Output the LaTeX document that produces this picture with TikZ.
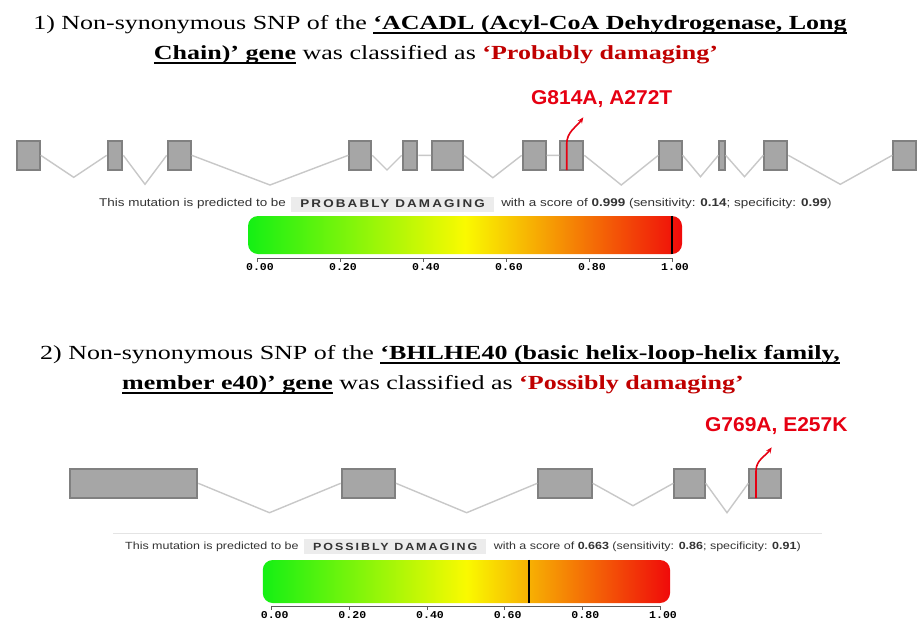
\documentclass[tikz,border=0pt]{standalone}
\usepackage{fontspec}
\setmainfont{Liberation Serif}
\newfontfamily\headfont[FakeStretch=1.3]{Liberation Serif}
\newfontfamily\polyfont[FakeStretch=1.2]{Liberation Sans}
\newfontfamily\verdictfont[FakeStretch=1.2,LetterSpace=19]{Liberation Sans}
\newfontfamily\tickfont[FakeStretch=1.1]{Liberation Mono}
\newfontfamily\snpfont[FakeStretch=1.05]{Liberation Sans}
\newcommand\headul[1]{\leavevmode\setbox0\hbox{#1}\rlap{\vrule height -3.2pt depth 4.6pt width \wd0}\box0\relax}
\usetikzlibrary{positioning, arrows.meta, calc}

\definecolor{exonfill}{RGB}{166,166,166}
\definecolor{exonline}{RGB}{128,128,128}
\definecolor{intronline}{RGB}{200,200,200}
\definecolor{snpred}{RGB}{230,0,18}
\definecolor{headred}{RGB}{192,0,0}
\definecolor{polytext}{RGB}{51,51,51}
\definecolor{verdictbg}{RGB}{236,236,236}
\definecolor{barGreen}{RGB}{20,240,20}
\definecolor{barYellow}{RGB}{250,250,0}
\definecolor{barRed}{RGB}{240,10,10}
\definecolor{axisgray}{RGB}{90,90,90}
\definecolor{sepgray}{RGB}{228,228,228}

\begin{document}
\begin{tikzpicture}[
  x=1pt, y=-1pt,
  >={Stealth[length=6pt,width=5pt]},
  node distance=5pt,
  head/.style={anchor=base, font=\headfont\fontsize{20}{24}\selectfont, inner sep=0pt},
  exon/.style={draw=exonline, line width=2pt, fill=exonfill, inner sep=0pt},
  intron/.style={draw=intronline, line width=1.4pt},
  snp/.style={->, draw=snpred, line width=1.6pt},
  snplab/.style={font=\snpfont\bfseries\fontsize{20}{24}\selectfont, text=snpred, inner sep=0pt},
  polyline/.style={font=\polyfont\fontsize{11.2}{13}\selectfont, text=polytext, inner sep=0pt, text height=8.2pt, text depth=2.3pt},
  verdict/.style={font=\verdictfont\bfseries\fontsize{11.2}{13}\selectfont, text=polytext, fill=verdictbg, inner xsep=9pt, inner ysep=0pt, minimum height=15pt},
  small/.style={font=\polyfont\fontsize{10.4}{13}\selectfont},
  smallv/.style={font=\verdictfont\bfseries\fontsize{10.4}{13}\selectfont},
  scorebar/.style={rounded corners=10pt, left color=barGreen, right color=barRed, middle color=barYellow, inner sep=0pt},
  marker/.style={draw=black, line width=2pt},
  axis/.style={draw=axisgray, line width=1pt},
  ticklab/.style={font=\tickfont\bfseries\fontsize{10.5}{12}\selectfont, inner sep=0pt}
]
  \path[use as bounding box, fill=white] (0,0) rectangle (919,630);

  % ---- ACADL ----
  \node[head] (head1a) at (440,29) {1) Non-synonymous SNP of the \headul{\textbf{‘ACADL (Acyl-CoA Dehydrogenase, Long}}};
  \node[head] (head1b) at (436,59) {\headul{\textbf{Chain)’ gene}} was classified as \textcolor{headred}{\textbf{‘Probably damaging’}}};

  \foreach \n/\l/\r in {e1/15.7/40.7, e2/106.7/123.3, e3/166.7/191.7, e4/348.3/372.3,
      e5/401.7/418.3, e6/431/464, e7/521.7/546.7, e8/559.3/584.3, e9/658.3/682.7,
      e10/718.3/725.7, e11/763.3/788.3, e12/892.3/917.3}
    \node[exon, minimum width={(\r-\l-2)*1pt}, minimum height=28.7pt] (\n) at ({(\l+\r)/2},155.3) {};
  \foreach \a/\b/\d in {e1/e2/22, e2/e3/29, e3/e4/29.7, e4/e5/14.7, e5/e6/0, e6/e7/22.4,
      e7/e8/0, e8/e9/29.7, e9/e10/21.4, e10/e11/21.4, e11/e12/29}
    \draw[intron] (\a.east) -- ($(\a.east)!.5!(\b.west)+(0,\d)$) -- (\b.west);

  \coordinate (snp1) at (566.7,170);
  \coordinate (snp1tip) at (583.3,117.3);
  \node[snplab] (snp1lab) at (601.7,98.8) {G814A, A272T};
  \draw[snp] (snp1) -- ++(0,-26) to[out=90, in=235] (snp1tip);

  \node[polyline, anchor=west] (lead1) at (99,204) {This mutation is predicted to be};
  \node[verdict, right=of lead1] (verdict1) {PROBABLY DAMAGING};
  \node[polyline, right=7pt of verdict1] (rest1) {with a score of \textbf{0.999} (sensitivity: \textbf{0.14}; specificity: \textbf{0.99})};

  \node[scorebar, minimum width=434pt, minimum height=38pt] (bar1) at (465,235) {};
  \coordinate (ax1a) at (257,258.3);
  \coordinate (ax1b) at (672,258.3);
  \draw[axis] (ax1a) -- (ax1b);
  \foreach \v [count=\i from 0] in {0.00,0.20,0.40,0.60,0.80,1.00}
    \draw[axis] ($(ax1a)!\i/5!(ax1b)$) -- ++(0,4) node[ticklab, below=1pt, xshift=3pt] {\v};
  \coordinate (score1) at ($(ax1a)!0.999!(ax1b)$);
  \draw[marker] (bar1.north -| score1) -- (bar1.south -| score1);

  % ---- BHLHE40 ----
  \node[head] (head2a) at (440,359) {2) Non-synonymous SNP of the \headul{\textbf{‘BHLHE40 (basic helix-loop-helix family,}}};
  \node[head] (head2b) at (433,389) {\headul{\textbf{member e40)’ gene}} was classified as \textcolor{headred}{\textbf{‘Possibly damaging’}}};

  \foreach \n/\l/\r in {f1/69/198.3, f2/340.7/396, f3/537.3/592.7, f4/673.3/705.7, f5/748.3/781.7}
    \node[exon, minimum width={(\r-\l-2)*1pt}, minimum height=29.3pt] (\n) at ({(\l+\r)/2},483.3) {};
  \foreach \a/\b/\d in {f1/f2/29.4, f2/f3/29.4, f3/f4/22.4, f4/f5/29.4}
    \draw[intron] (\a.east) -- ($(\a.east)!.5!(\b.west)+(0,\d)$) -- (\b.west);

  \coordinate (snp2) at (756,498);
  \coordinate (snp2tip) at (771.7,447.3);
  \node[snplab] (snp2lab) at (776.3,426) {G769A, E257K};
  \draw[snp] (snp2) -- ++(0,-27) to[out=90, in=235] (snp2tip);

  \draw[sepgray, line width=1pt] (113,533) -- (822,533);
  \node[polyline, small, anchor=west] (lead2) at (125,546.7) {This mutation is predicted to be};
  \node[verdict, smallv, right=of lead2] (verdict2) {POSSIBLY DAMAGING};
  \node[polyline, small, right=7pt of verdict2] (rest2) {with a score of \textbf{0.663} (sensitivity: \textbf{0.86}; specificity: \textbf{0.91})};

  \node[scorebar, minimum width=407.3pt, minimum height=43pt] (bar2) at (466.4,581.5) {};
  \coordinate (ax2a) at (271.7,606);
  \coordinate (ax2b) at (660,606);
  \draw[axis] (ax2a) -- (ax2b);
  \foreach \v [count=\i from 0] in {0.00,0.20,0.40,0.60,0.80,1.00}
    \draw[axis] ($(ax2a)!\i/5!(ax2b)$) -- ++(0,4) node[ticklab, below=1pt, xshift=3pt] {\v};
  \coordinate (score2) at ($(ax2a)!0.663!(ax2b)$);
  \draw[marker] (bar2.north -| score2) -- (bar2.south -| score2);
\end{tikzpicture}
\end{document}
